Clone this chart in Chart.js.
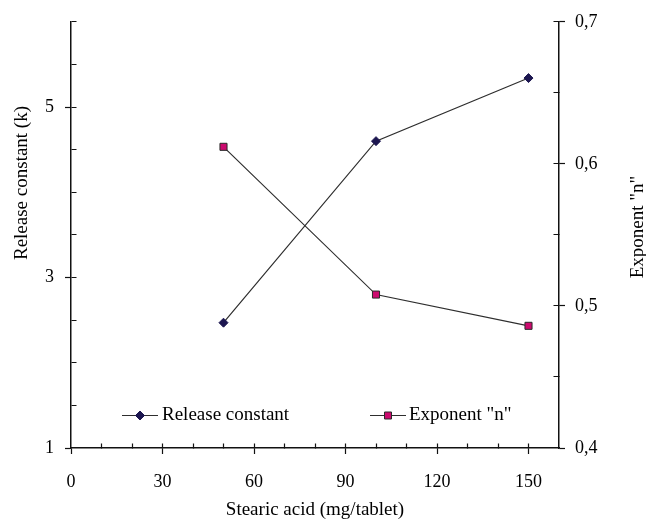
<!DOCTYPE html>
<html><head><meta charset="utf-8">
<script src="https://cdn.jsdelivr.net/npm/chart.js@4.4.0/dist/chart.umd.min.js"></script>
<style>html,body{margin:0;padding:0;background:#fff;}#wrap{width:646px;height:528px;position:relative;}</style>
</head><body><div id="wrap"><canvas id="c"></canvas></div>
<script>
// ---- data ----
const stearicAcid = [50, 100, 150];
const releaseConstant = [2.47, 4.60, 5.34];
const exponentN = [0.612, 0.508, 0.486];
const xTickLabels = [0, 30, 60, 90, 120, 150];
const leftTickLabels = [1, 3, 5];
const rightTickLabels = [0.4, 0.5, 0.6, 0.7];
const seriesNames = ['Release constant', 'Exponent "n"'];
const xTitle = 'Stearic acid (mg/tablet)';
const yTitle = 'Release constant (k)';
const y1Title = 'Exponent "n"';

// ---- styles ----
const FONT = '"Liberation Serif", "Times New Roman", serif';
const axisColor = '#111111';
const axisWidth = 1.5;
const lineColor = '#2e2e2e';
const diamondColor = '#1c1650';
const squareColor = '#cc0a6e';
const squareBorder = '#2a2a2a';

const near = (a, b) => Math.abs(a - b) < 1e-6;
const isMajorX = v => xTickLabels.some(l => near(l, v));
const isMajorY = v => leftTickLabels.some(l => near(l, v));
const isMajorY1 = v => rightTickLabels.some(l => near(l, v));
const alignPx = p => Math.round(p - 0.5) + 0.5;

function drawMarker(ctx, style, x, y) {
  ctx.save();
  ctx.lineWidth = 1;
  if (style === 'diamond') {
    ctx.fillStyle = diamondColor; ctx.strokeStyle = diamondColor;
    ctx.beginPath();
    ctx.moveTo(x, y - 4.5); ctx.lineTo(x + 4.5, y); ctx.lineTo(x, y + 4.5); ctx.lineTo(x - 4.5, y);
    ctx.closePath(); ctx.fill(); ctx.stroke();
  } else {
    ctx.fillStyle = squareColor; ctx.strokeStyle = squareBorder;
    ctx.beginPath(); ctx.rect(x - 3.5, y - 3.5, 7, 7); ctx.fill(); ctx.stroke();
  }
  ctx.restore();
}

const decorPlugin = {
  id: 'decor',
  afterDraw(chart) {
    const ctx = chart.ctx, a = chart.chartArea;
    const sx = chart.scales.x, sy = chart.scales.y, sy1 = chart.scales.y1;
    ctx.save();
    ctx.strokeStyle = axisColor; ctx.lineWidth = 1.2;
    ctx.beginPath();
    const b = alignPx(a.bottom), l = alignPx(a.left), r = alignPx(a.right);
    sx.ticks.forEach(t => {
      if (t.value <= sx.min || t.value >= sx.max) return;
      const px = alignPx(sx.getPixelForValue(t.value));
      ctx.moveTo(px, b); ctx.lineTo(px, b - 5);
    });
    sy.ticks.forEach(t => {
      if (t.value <= sy.min) return;
      const py = alignPx(sy.getPixelForValue(t.value));
      ctx.moveTo(l, py); ctx.lineTo(l + 5, py);
    });
    sy1.ticks.forEach(t => {
      if (t.value <= sy1.min + 1e-9) return;
      const py = alignPx(sy1.getPixelForValue(t.value));
      ctx.moveTo(r, py); ctx.lineTo(r - 6, py);
    });
    ctx.stroke();

    // vertical axis titles
    ctx.fillStyle = '#000';
    ctx.font = '19px ' + FONT;
    ctx.textAlign = 'center'; ctx.textBaseline = 'middle';
    ctx.save(); ctx.translate(22, 183); ctx.rotate(-Math.PI / 2); ctx.fillText(yTitle, 0, 0); ctx.restore();
    ctx.save(); ctx.translate(638, 227); ctx.rotate(-Math.PI / 2); ctx.fillText(y1Title, 0, 0); ctx.restore();

    // legend inside plot
    const ly = 415;
    const items = [
      {x1: 122, x2: 158, style: 'diamond', tx: 162, text: seriesNames[0]},
      {x1: 370, x2: 406, style: 'square', tx: 409, text: seriesNames[1]}
    ];
    items.forEach(it => {
      ctx.strokeStyle = lineColor; ctx.lineWidth = 1.2;
      ctx.beginPath(); ctx.moveTo(it.x1, ly + 0.5); ctx.lineTo(it.x2, ly + 0.5); ctx.stroke();
      drawMarker(ctx, it.style, (it.x1 + it.x2) / 2, ly + 0.5);
      ctx.fillStyle = '#000'; ctx.textAlign = 'left'; ctx.textBaseline = 'middle';
      ctx.fillText(it.text, it.tx, ly);
    });
    ctx.restore();
  }
};

new Chart(document.getElementById('c'), {
  type: 'line',
  data: {
    datasets: [
      {
        label: seriesNames[0],
        data: stearicAcid.map((x, i) => ({x: x, y: releaseConstant[i]})),
        yAxisID: 'y',
        borderColor: lineColor, borderWidth: 1.2, tension: 0, fill: false,
        pointStyle: 'rectRot', pointRadius: 4.5, pointHoverRadius: 4.5,
        pointBackgroundColor: diamondColor, pointBorderColor: diamondColor, pointBorderWidth: 1
      },
      {
        label: seriesNames[1],
        data: stearicAcid.map((x, i) => ({x: x, y: exponentN[i]})),
        yAxisID: 'y1',
        borderColor: lineColor, borderWidth: 1.2, tension: 0, fill: false,
        pointStyle: 'rect', pointRadius: 5, pointHoverRadius: 5,
        pointBackgroundColor: squareColor, pointBorderColor: squareBorder, pointBorderWidth: 1
      }
    ]
  },
  options: {
    responsive: true, maintainAspectRatio: false, animation: false, devicePixelRatio: 1,
    layout: {padding: {top: 19, left: 0, right: 0, bottom: 0}},
    plugins: {legend: {display: false}, tooltip: {enabled: false}},
    scales: {
      x: {
        type: 'linear', position: 'bottom', min: 0, max: 160,
        afterFit(s) { s.height = 80; },
        ticks: {
          stepSize: 10, autoSkip: false, maxRotation: 0, padding: 17, color: '#000',
          font: {family: FONT, size: 18},
          callback: v => isMajorX(v) ? String(v) : ''
        },
        grid: {
          display: true, drawOnChartArea: false, drawTicks: true, tickLength: 6, tickWidth: 1.2,
          tickColor: c => (c.tick && isMajorX(c.tick.value)) ? axisColor : 'rgba(0,0,0,0)'
        },
        border: {display: true, color: axisColor, width: axisWidth},
        title: {display: true, text: xTitle, color: '#000', font: {family: FONT, size: 19}, padding: {top: 0, bottom: 7}}
      },
      y: {
        type: 'linear', position: 'left', min: 1, max: 6,
        afterFit(s) { s.width = 71; },
        ticks: {
          stepSize: 0.5, autoSkip: false, padding: 11, color: '#000',
          font: {family: FONT, size: 18},
          callback: v => isMajorY(v) ? String(v) : ''
        },
        grid: {
          display: true, drawOnChartArea: false, drawTicks: true, tickLength: 6, tickWidth: 1.2,
          tickColor: c => (c.tick && isMajorY(c.tick.value)) ? axisColor : 'rgba(0,0,0,0)'
        },
        border: {display: true, color: axisColor, width: axisWidth},
        title: {display: false}
      },
      y1: {
        type: 'linear', position: 'right', min: 0.4, max: 0.7,
        afterFit(s) { s.width = 87; },
        ticks: {
          stepSize: 0.05, autoSkip: false, padding: 10, color: '#000',
          font: {family: FONT, size: 18},
          callback: v => {
            const m = rightTickLabels.find(l => near(l, v));
            return m !== undefined ? m.toFixed(1).replace('.', ',') : '';
          }
        },
        grid: {
          display: true, drawOnChartArea: false, drawTicks: true, tickLength: 6, tickWidth: 1.2,
          tickColor: c => (c.tick && isMajorY1(c.tick.value)) ? axisColor : 'rgba(0,0,0,0)'
        },
        border: {display: true, color: axisColor, width: axisWidth},
        title: {display: false}
      }
    }
  },
  plugins: [decorPlugin]
});
</script>
</body></html>
